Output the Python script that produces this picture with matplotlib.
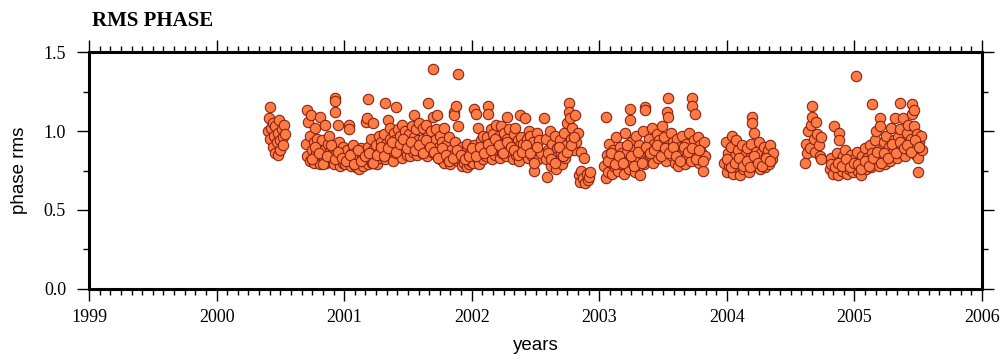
import matplotlib
matplotlib.use("Agg")
import matplotlib.pyplot as plt
from matplotlib.ticker import MultipleLocator
import numpy as np

# observation segments: decimal year and rms phase
seg1_t = [2000.40, 2000.41, 2000.42, 2000.42, 2000.43, 2000.44, 2000.44, 2000.45, 2000.46, 2000.46,
          2000.47, 2000.48, 2000.48, 2000.49, 2000.50, 2000.50, 2000.51, 2000.52, 2000.52, 2000.53, 2000.54]
seg1_v = [1.00, 1.08, 1.15, 0.95, 1.02, 0.90, 1.05, 0.97, 0.86, 1.03,
          0.93, 0.99, 0.85, 1.07, 0.94, 0.88, 1.01, 0.96, 0.91, 1.04, 0.98]

seg2_t = [2000.70, 2000.71, 2000.71, 2000.72, 2000.73, 2000.73, 2000.74, 2000.75, 2000.76, 2000.76, 2000.77, 2000.78, 2000.79, 2000.79,
          2000.80, 2000.81, 2000.81, 2000.82, 2000.83, 2000.84, 2000.84, 2000.85, 2000.86, 2000.87, 2000.87, 2000.88, 2000.89, 2000.89,
          2000.90, 2000.91, 2000.92, 2000.93, 2000.93, 2000.93, 2000.94, 2000.95, 2000.96, 2000.96, 2000.97, 2000.98, 2000.99, 2000.99,
          2001.00, 2001.01, 2001.02, 2001.03, 2001.04, 2001.04, 2001.05, 2001.06, 2001.07, 2001.07, 2001.08, 2001.09, 2001.09,
          2001.10, 2001.11, 2001.12, 2001.13, 2001.13, 2001.14, 2001.15, 2001.16, 2001.17, 2001.17, 2001.18, 2001.19, 2001.19, 2001.19,
          2001.20, 2001.21, 2001.22, 2001.23, 2001.23, 2001.24, 2001.25, 2001.26, 2001.27, 2001.27, 2001.28, 2001.29, 2001.29,
          2001.30, 2001.31, 2001.32, 2001.32, 2001.33, 2001.34, 2001.35, 2001.36, 2001.36, 2001.37, 2001.38, 2001.39, 2001.39,
          2001.40, 2001.41, 2001.41, 2001.42, 2001.43, 2001.44, 2001.45, 2001.45, 2001.46, 2001.47, 2001.48, 2001.49, 2001.49,
          2001.50, 2001.51, 2001.52, 2001.53, 2001.53, 2001.54, 2001.55, 2001.55, 2001.56, 2001.57, 2001.58, 2001.59, 2001.59,
          2001.60, 2001.61, 2001.62, 2001.62, 2001.63, 2001.64, 2001.65, 2001.66, 2001.66, 2001.67, 2001.68, 2001.69, 2001.70, 2001.70,
          2001.71, 2001.72, 2001.72, 2001.73, 2001.74, 2001.75, 2001.75, 2001.76, 2001.77, 2001.78, 2001.78, 2001.79,
          2001.80, 2001.81, 2001.82, 2001.83, 2001.84, 2001.85, 2001.86, 2001.86, 2001.87, 2001.88, 2001.89, 2001.89, 2001.89, 2001.90,
          2001.91, 2001.92, 2001.92, 2001.93, 2001.94, 2001.95, 2001.96, 2001.96, 2001.97, 2001.98, 2001.99, 2001.99,
          2002.00, 2002.01, 2002.02, 2002.02, 2002.03, 2002.04, 2002.05, 2002.05, 2002.06, 2002.07, 2002.08, 2002.09, 2002.09,
          2002.10, 2002.11, 2002.12, 2002.13, 2002.13, 2002.14, 2002.15, 2002.16, 2002.16, 2002.17, 2002.18, 2002.19, 2002.19,
          2002.20, 2002.21, 2002.22, 2002.23, 2002.23, 2002.24, 2002.25, 2002.26, 2002.27, 2002.28, 2002.28, 2002.29,
          2002.30, 2002.31, 2002.32, 2002.33, 2002.34, 2002.34, 2002.35, 2002.36, 2002.37, 2002.38, 2002.38, 2002.39,
          2002.40, 2002.41, 2002.42, 2002.43, 2002.44, 2002.45, 2002.45, 2002.46, 2002.47, 2002.48, 2002.49, 2002.50, 2002.51, 2002.52, 2002.53, 2002.54]
seg2_v = [0.92, 1.13, 0.84, 1.06, 0.97, 0.81, 1.10, 0.88, 0.93, 0.80, 1.02, 0.86, 0.83, 0.95,
          0.90, 1.09, 0.79, 0.85, 0.94, 0.82, 0.88, 1.04, 0.80, 0.92, 0.84, 0.97, 0.81, 0.87,
          0.83, 0.89, 0.79, 1.21, 1.19, 1.12, 0.86, 1.04, 0.81, 0.93, 0.78, 0.85, 0.90, 0.80,
          0.84, 0.79, 0.88, 0.82, 1.04, 1.01, 0.78, 0.86, 0.80, 0.91, 0.83, 0.77, 0.87,
          0.81, 0.85, 0.76, 0.89, 0.80, 0.83, 0.78, 0.87, 1.06, 0.82, 1.08, 1.20, 0.79, 0.90,
          0.84, 0.95, 0.80, 0.88, 1.05, 0.82, 0.91, 0.79, 0.86, 0.97, 0.83, 0.89, 0.93,
          0.87, 0.98, 1.18, 0.82, 0.92, 1.07, 0.85, 0.95, 1.02, 0.88, 0.81, 0.99, 0.91,
          0.94, 1.15, 0.86, 1.01, 0.90, 0.97, 0.83, 1.04, 0.92, 0.88, 1.00, 0.85, 0.95,
          0.90, 0.98, 0.84, 1.03, 0.93, 0.87, 1.10, 0.96, 1.01, 0.85, 0.94, 0.89, 1.05,
          0.92, 0.86, 1.02, 0.95, 0.89, 1.04, 0.84, 1.18, 0.97, 0.91, 1.00, 0.87, 1.39, 1.09,
          0.94, 0.85, 1.01, 1.10, 0.90, 0.82, 0.97, 0.88, 0.93, 0.80, 1.02, 0.86,
          0.91, 0.83, 0.96, 0.79, 0.88, 0.85, 1.12, 1.10, 0.93, 1.16, 1.36, 1.03, 0.81, 0.87,
          0.82, 0.78, 0.90, 0.84, 0.80, 0.87, 0.77, 0.92, 0.83, 0.79, 0.86, 0.81,
          0.85, 0.80, 1.14, 0.91, 1.11, 0.83, 1.02, 0.88, 0.79, 0.94, 0.86, 0.97, 0.82,
          0.89, 0.84, 0.96, 1.16, 1.11, 0.87, 1.01, 0.82, 0.93, 0.98, 0.85, 0.91, 1.04,
          0.88, 0.97, 0.83, 1.03, 0.92, 0.86, 0.99, 0.90, 0.84, 1.09, 0.95, 1.01,
          0.87, 0.93, 0.82, 0.98, 0.89, 1.02, 0.85, 0.94, 0.81, 1.10, 0.91, 0.96,
          0.92, 0.86, 1.08, 0.95, 0.83, 1.00, 0.89, 0.97, 0.84, 0.93, 0.75, 0.88, 0.99, 0.82, 0.94, 0.86]
# denser core of the long run
seg2b_t = [2000.745, 2000.775, 2000.805, 2000.835, 2000.865, 2000.895, 2000.925, 2000.955, 2000.985, 2001.015,
           2001.045, 2001.075, 2001.105, 2001.135, 2001.165, 2001.195, 2001.225, 2001.255, 2001.285, 2001.315,
           2001.345, 2001.375, 2001.405, 2001.435, 2001.465, 2001.495, 2001.525, 2001.555, 2001.585, 2001.615,
           2001.645, 2001.675, 2001.705, 2001.735, 2001.765, 2001.795, 2001.825, 2001.855, 2001.885, 2001.915,
           2001.945, 2001.975, 2002.005, 2002.035, 2002.065, 2002.095, 2002.125, 2002.155, 2002.185, 2002.215,
           2002.245, 2002.275, 2002.305, 2002.335, 2002.365, 2002.395, 2002.425, 2002.455, 2002.485, 2002.515]
seg2b_v = [0.82, 0.90, 0.86, 0.79, 0.84, 0.91, 0.82, 0.87, 0.83, 0.81,
           0.85, 0.79, 0.88, 0.81, 0.84, 0.86, 0.80, 0.85, 0.90, 0.84,
           0.89, 0.93, 0.87, 0.92, 0.95, 0.89, 0.93, 0.88, 0.91, 0.86,
           0.94, 0.90, 0.87, 0.83, 0.89, 0.85, 0.81, 0.83, 0.88, 0.85,
           0.82, 0.84, 0.89, 0.84, 0.90, 0.86, 0.92, 0.88, 0.95, 0.91,
           0.86, 0.93, 0.90, 0.88, 0.85, 0.87, 0.91, 0.86, 0.80, 0.90]

seg3_t = [2002.57, 2002.58, 2002.58, 2002.59, 2002.60, 2002.61, 2002.62, 2002.63, 2002.64, 2002.65,
          2002.66, 2002.67, 2002.68, 2002.69, 2002.70, 2002.71, 2002.72, 2002.73, 2002.74, 2002.75,
          2002.76, 2002.76, 2002.77, 2002.78, 2002.79, 2002.80, 2002.81, 2002.82, 2002.83, 2002.84,
          2002.85, 2002.86, 2002.86, 2002.87, 2002.88, 2002.89, 2002.90, 2002.91, 2002.92, 2002.93,
          2002.595, 2002.625, 2002.655, 2002.685, 2002.715, 2002.745, 2002.775, 2002.805]
seg3_v = [1.08, 0.82, 0.95, 0.71, 0.88, 1.00, 0.78, 0.92, 0.84, 0.97,
          0.76, 0.89, 0.81, 0.94, 0.86, 0.79, 0.99, 0.83, 0.91, 1.05,
          1.18, 1.12, 1.08, 0.95, 1.02, 0.88, 1.10, 0.93, 0.99, 0.72,
          0.68, 0.87, 0.75, 0.70, 0.83, 0.67, 0.73, 0.69, 0.71, 0.74,
          0.86, 0.82, 0.80, 0.90, 0.84, 0.87, 0.91, 0.96]

seg4_t = [2003.04, 2003.05, 2003.05, 2003.06, 2003.07, 2003.08, 2003.09, 2003.10, 2003.11, 2003.12,
          2003.13, 2003.14, 2003.15, 2003.16, 2003.17, 2003.18, 2003.19, 2003.20, 2003.21, 2003.22,
          2003.23, 2003.24, 2003.24, 2003.25, 2003.26, 2003.27, 2003.28, 2003.29, 2003.30, 2003.31,
          2003.32, 2003.33, 2003.34, 2003.35, 2003.36, 2003.36, 2003.37, 2003.38, 2003.39, 2003.40,
          2003.41, 2003.42, 2003.43, 2003.44, 2003.45, 2003.46, 2003.47, 2003.48, 2003.49, 2003.50,
          2003.51, 2003.52, 2003.53, 2003.54, 2003.54, 2003.55, 2003.56, 2003.57, 2003.58, 2003.59,
          2003.60, 2003.61, 2003.62, 2003.63, 2003.64, 2003.65, 2003.66, 2003.67, 2003.68, 2003.69,
          2003.70, 2003.71, 2003.72, 2003.73, 2003.73, 2003.74, 2003.75, 2003.76, 2003.77, 2003.78,
          2003.79, 2003.80, 2003.81, 2003.82, 2003.83,
          2003.065, 2003.095, 2003.125, 2003.155, 2003.185, 2003.215, 2003.245, 2003.275, 2003.305, 2003.335,
          2003.365, 2003.395, 2003.425, 2003.455, 2003.485, 2003.515, 2003.545, 2003.575, 2003.605, 2003.635,
          2003.665, 2003.695, 2003.725, 2003.755, 2003.785, 2003.815]
seg4_v = [0.78, 1.09, 0.70, 0.85, 0.74, 0.92, 0.80, 0.73, 0.88, 0.77,
          0.96, 0.82, 0.75, 0.90, 0.79, 0.86, 0.73, 0.99, 0.81, 0.87,
          0.76, 1.14, 1.07, 0.93, 0.80, 0.88, 0.74, 0.97, 0.83, 0.91,
          0.72, 0.86, 1.00, 0.79, 1.15, 1.13, 0.89, 0.82, 0.95, 0.85,
          1.02, 0.80, 0.92, 0.87, 0.98, 0.83, 0.94, 0.89, 1.03, 0.86,
          0.96, 0.81, 1.12, 1.21, 1.09, 0.91, 0.99, 0.84, 0.93, 0.80,
          0.88, 0.95, 0.78, 0.90, 0.83, 0.97, 0.86, 0.79, 0.92, 0.84,
          0.99, 0.88, 0.81, 1.21, 1.16, 0.94, 1.11, 0.85, 0.96, 0.80,
          0.91, 0.87, 0.75, 0.93, 0.84,
          0.81, 0.86, 0.79, 0.84, 0.80, 0.91, 0.84, 0.78, 0.87, 0.80,
          0.90, 0.86, 0.88, 0.91, 0.84, 0.89, 0.86, 0.90, 0.84, 0.81,
          0.90, 0.87, 0.89, 0.82, 0.88, 0.81]

seg5_t = [2003.98, 2003.99, 2004.00, 2004.01, 2004.02, 2004.03, 2004.04, 2004.05, 2004.06, 2004.07,
          2004.08, 2004.09, 2004.10, 2004.11, 2004.12, 2004.13, 2004.14, 2004.15, 2004.16, 2004.17,
          2004.18, 2004.19, 2004.20, 2004.20, 2004.21, 2004.22, 2004.23, 2004.24, 2004.25, 2004.26,
          2004.27, 2004.28, 2004.29, 2004.30, 2004.31, 2004.32, 2004.33, 2004.34, 2004.35, 2004.36,
          2004.005, 2004.035, 2004.065, 2004.095, 2004.125, 2004.155, 2004.185, 2004.215, 2004.245, 2004.275,
          2004.305, 2004.335]
seg5_v = [0.80, 0.93, 0.74, 0.86, 0.78, 0.90, 0.97, 0.73, 0.84, 0.94,
          0.77, 0.88, 0.72, 0.82, 0.91, 0.76, 0.85, 0.79, 0.89, 0.74,
          0.83, 0.92, 1.09, 1.05, 0.99, 0.78, 0.87, 0.81, 0.93, 0.76,
          0.86, 0.80, 0.90, 0.77, 0.84, 0.88, 0.79, 0.91, 0.82, 0.86,
          0.82, 0.77, 0.80, 0.83, 0.78, 0.81, 0.77, 0.84, 0.80, 0.78,
          0.83, 0.81]

seg6_t = [2004.61, 2004.62, 2004.63, 2004.64, 2004.65, 2004.66, 2004.67, 2004.67,
          2004.68, 2004.69, 2004.70, 2004.71, 2004.72, 2004.73, 2004.74, 2004.74]
seg6_v = [0.80, 0.92, 0.86, 1.00, 0.89, 1.04, 1.16, 1.09,
          0.95, 0.87, 1.06, 0.98, 0.91, 0.84, 0.82, 0.96]

seg7_t = [2004.81, 2004.82, 2004.83, 2004.84, 2004.85, 2004.86, 2004.87, 2004.88, 2004.88, 2004.89,
          2004.90, 2004.91, 2004.92, 2004.93, 2004.94, 2004.95, 2004.96, 2004.97, 2004.98, 2004.99,
          2005.00, 2005.01, 2005.01, 2005.02, 2005.03, 2005.04, 2005.05, 2005.06, 2005.07, 2005.08,
          2005.09, 2005.10, 2005.11, 2005.12, 2005.13, 2005.14, 2005.14, 2005.15, 2005.16, 2005.17,
          2005.18, 2005.19, 2005.20, 2005.20, 2005.21, 2005.22, 2005.23, 2005.24, 2005.25, 2005.26,
          2005.27, 2005.28, 2005.29, 2005.30, 2005.31, 2005.32, 2005.33, 2005.34, 2005.35, 2005.36,
          2005.36, 2005.37, 2005.38, 2005.39, 2005.40, 2005.41, 2005.42, 2005.43, 2005.44, 2005.45,
          2005.45, 2005.46, 2005.47, 2005.47, 2005.48, 2005.49, 2005.50, 2005.50, 2005.51, 2005.52, 2005.53,
          2004.815, 2004.845, 2004.875, 2004.905, 2004.935, 2004.965, 2004.995, 2005.025, 2005.055, 2005.085,
          2005.115, 2005.145, 2005.175, 2005.205, 2005.235, 2005.265, 2005.295, 2005.325, 2005.355, 2005.385,
          2005.415, 2005.445, 2005.475, 2005.505]
seg7_v = [0.76, 0.83, 0.73, 1.03, 0.79, 0.86, 0.72, 0.99, 0.94, 0.81,
          0.75, 0.84, 0.78, 0.88, 0.73, 0.80, 0.76, 0.85, 0.79, 0.74,
          0.82, 1.35, 0.77, 0.87, 0.75, 0.81, 0.72, 0.84, 0.78, 0.89,
          0.76, 0.83, 0.80, 0.91, 0.77, 1.17, 0.86, 0.81, 0.94, 1.00,
          0.84, 0.78, 1.08, 1.03, 0.88, 0.82, 0.93, 0.79, 0.97, 0.85,
          0.90, 0.81, 1.02, 0.87, 0.94, 1.08, 0.83, 0.96, 0.89, 1.18,
          1.01, 0.86, 1.08, 0.92, 0.84, 0.99, 1.04, 0.88, 0.95, 1.17,
          1.11, 0.91, 1.13, 1.03, 0.85, 0.98, 0.83, 0.74, 0.93, 0.97, 0.88,
          0.79, 0.77, 0.80, 0.78, 0.82, 0.77, 0.80, 0.79, 0.76, 0.81,
          0.78, 0.83, 0.87, 0.80, 0.86, 0.83, 0.92, 0.86, 0.93, 0.89,
          0.91, 0.87, 0.94, 0.90]

years = seg1_t + seg2_t + seg2b_t + seg3_t + seg4_t + seg5_t + seg6_t + seg7_t
rms = seg1_v + seg2_v + seg2b_v + seg3_v + seg4_v + seg5_v + seg6_v + seg7_v

year_ticks = [1999, 2000, 2001, 2002, 2003, 2004, 2005, 2006]
rms_ticks = [0.0, 0.5, 1.0, 1.5]

serif = "Liberation Serif"
sans = "Liberation Sans"

fig = plt.figure(figsize=(10.08, 3.63), dpi=100)
ax = fig.add_axes([0.0883, 0.2039, 0.8859, 0.6528])

ax.scatter(years, rms, s=56, facecolor="#fe7c44", edgecolor="#8a2214", linewidth=0.8, zorder=3)

ax.set_xlim(1999, 2006)
ax.set_ylim(0, 1.5)
ax.set_xticks(year_ticks)
ax.set_yticks(rms_ticks)
ax.set_yticklabels(["%.1f" % v for v in rms_ticks])
ax.xaxis.set_minor_locator(MultipleLocator(1 / 12))
ax.yaxis.set_minor_locator(MultipleLocator(0.25))

for sp in ax.spines.values():
    sp.set_linewidth(2.2)

ax.tick_params(which="both", direction="out", top=True, right=True, width=1.0)
ax.tick_params(which="major", length=8.5)
ax.tick_params(which="minor", length=4.2)
ax.tick_params(axis="y", which="major", pad=8)
ax.tick_params(axis="x", which="major", pad=6)
for lab in ax.get_xticklabels() + ax.get_yticklabels():
    lab.set_fontfamily(serif)
    lab.set_fontsize(13)

ax.set_xlabel("years", fontfamily=sans, fontsize=13.5, labelpad=8)
ax.set_ylabel("phase rms", fontfamily=sans, fontsize=13.5, labelpad=11)
fig.text(0.0913, 0.943, "RMS PHASE", fontfamily=serif, fontsize=15, fontweight="bold",
         ha="left", va="center")

fig.savefig("out.png", dpi=100)
